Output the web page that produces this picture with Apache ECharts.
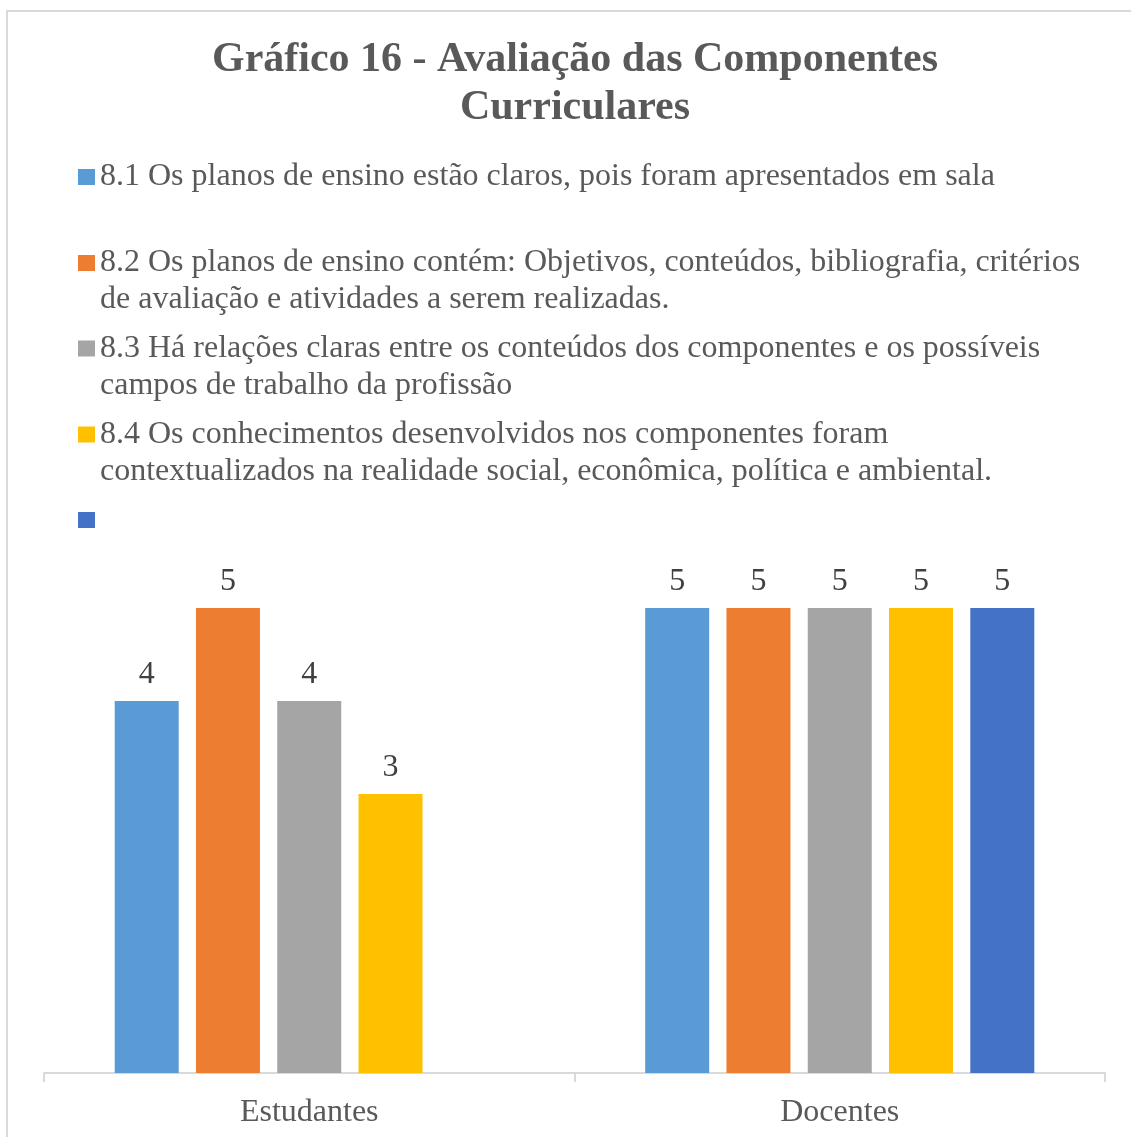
<!DOCTYPE html>
<html>
<head>
<meta charset="utf-8">
<script src="https://cdn.jsdelivr.net/npm/echarts@6/dist/echarts.min.js"></script>
<style>
  html, body { margin: 0; padding: 0; background: #fff; overflow: hidden; }
  #frame { position: absolute; left: 6px; top: 10px; width: 1300px; height: 1300px;
           border-left: 2px solid #d9d9d9; border-top: 2px solid #d9d9d9; }
  #chart { position: absolute; left: 0; top: 0; width: 1131px; height: 1137px; }
</style>
</head>
<body>
<div id="frame"></div>
<div id="chart"></div>
<script>
const titleText = 'Gráfico 16 - Avaliação das Componentes\nCurriculares';
const categories = ['Estudantes', 'Docentes'];
const seriesNames = [
  '8.1 Os planos de ensino estão claros, pois foram apresentados em sala',
  '8.2 Os planos de ensino contém: Objetivos, conteúdos, bibliografia, critérios\nde avaliação e atividades a serem realizadas.',
  '8.3 Há relações claras entre os conteúdos dos componentes e os possíveis\ncampos de trabalho da profissão',
  '8.4 Os conhecimentos desenvolvidos nos componentes foram\ncontextualizados na realidade social, econômica, política e ambiental.',
  ' '
];
const values81 = [4, 5];
const values82 = [5, 5];
const values83 = [4, 5];
const values84 = [3, 5];
const values85 = [null, 5];
const seriesValues = [values81, values82, values83, values84, values85];
const colors = ['#5B9BD5', '#ED7D31', '#A5A5A5', '#FFC000', '#4472C4'];

const FONT = '"Liberation Serif", "Times New Roman", serif';
const legendTops = [158.5, 207.5, 293, 379, 501.5];

const chart = echarts.init(document.getElementById('chart'), null, { renderer: 'canvas' });

const legends = seriesNames.map((name, i) => {
  const lines = name.split('\n').length;
  return {
    orient: 'vertical',
    left: 78,
    top: legendTops[i],
    padding: 0,
    itemWidth: 17,
    itemHeight: 16,
    itemGap: 0,
    icon: 'rect',
    selectedMode: false,
    data: [name],
    // keep the first text line level with the square marker
    formatter: (n) => lines > 1 ? '\u00a0\n' + n : n,
    textStyle: {
      fontFamily: FONT,
      fontSize: 32,
      lineHeight: 37,
      color: '#595959'
    }
  };
});

const option = {
  backgroundColor: 'transparent',
  animation: false,
  color: colors,
  title: {
    text: titleText,
    left: 575,
    top: 36,
    padding: 0,
    textAlign: 'center',
    textStyle: {
      fontFamily: FONT,
      fontSize: 42,
      fontWeight: 'bold',
      lineHeight: 48,
      color: '#595959'
    }
  },
  legend: legends,
  grid: { left: 44, right: 26, top: 608, bottom: 64, containLabel: false },
  xAxis: {
    type: 'category',
    data: categories,
    axisLine: { show: true, lineStyle: { color: '#d9d9d9', width: 2 } },
    axisTick: { show: true, length: 9, lineStyle: { color: '#d9d9d9', width: 2 } },
    axisLabel: { fontFamily: FONT, fontSize: 32, lineHeight: 32, color: '#595959', margin: 24 }
  },
  yAxis: {
    type: 'value',
    min: 0,
    max: 5,
    interval: 1,
    show: false,
    splitLine: { show: false }
  },
  series: seriesNames.map((name, i) => ({
    name: name,
    type: 'bar',
    data: seriesValues[i],
    barWidth: 64,
    barGap: '27%',
    itemStyle: { color: colors[i] },
    label: {
      show: true,
      position: 'top',
      distance: 10,
      fontFamily: FONT,
      fontSize: 32,
      lineHeight: 32,
      color: '#404040'
    }
  }))
};
chart.setOption(option);
</script>
</body>
</html>
